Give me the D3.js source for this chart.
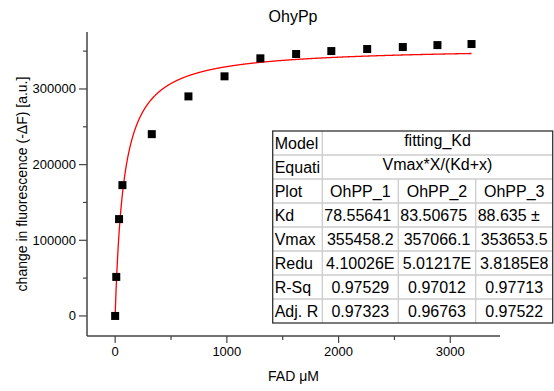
<!DOCTYPE html>
<html>
<head>
<meta charset="utf-8">
<script src="https://cdn.jsdelivr.net/npm/d3@7"></script>
<style>
  body { margin: 0; background: #fff; }
  svg { font-family: Arial, "Liberation Sans", sans-serif; }
</style>
</head>
<body>
<svg id="chart" width="554" height="391"></svg>
<script>
// measured FAD titration points
const fadConc = [0, 10, 35, 65, 328, 656, 979, 1300, 1620, 1935, 2256, 2575, 2885, 3190];
const deltaF = [0, 51600, 128000, 172900, 240300, 290200, 316700, 340500, 346200, 350100, 352800, 355400, 358000, 359400];

// fit parameters (OhPP_1 column)
const VMAX = 355458.2;
const KD = 78.55641;
const FIT_X_MAX = 3190;

const xTicks = [0, 1000, 2000, 3000];
const yTicks = [0, 100000, 200000, 300000];

// table content (as shown, cells cut off)
const tableColumns = ["OhPP_1", "OhPP_2", "OhPP_3"];
const tableRows = [
  { label: "Model", merged: "fitting_Kd" },
  { label: "Equati", merged: "Vmax*X/(Kd+x)" },
  { label: "Plot", values: tableColumns },
  { label: "Kd", values: ["78.55641", "83.50675", "88.635 ±"], left: true },
  { label: "Vmax", values: ["355458.2", "357066.1", "353653.5"] },
  { label: "Redu", values: ["4.10026E", "5.01217E", "3.8185E8"] },
  { label: "R-Sq", values: ["0.97529", "0.97012", "0.97713"] },
  { label: "Adj. R", values: ["0.97323", "0.96763", "0.97522"] }
];

const svg = d3.select("#chart");
const AXIS = "#444";

const plot = { left: 87, right: 500, top: 32, bottom: 336 };

const x = d3.scaleLinear().domain([-252, 3445]).range([plot.left, plot.right]);
const y = d3.scaleLinear().domain([-26500, 375300]).range([plot.bottom, plot.top]);

// axes
const xAxis = svg.append("g").attr("transform", `translate(0,${plot.bottom})`);
xAxis.append("line")
  .attr("x1", plot.left).attr("x2", plot.right)
  .attr("stroke", AXIS).attr("stroke-width", 1.5);
xAxis.selectAll(".minor").data([500, 1500, 2500])
  .join("line")
  .attr("x1", d => x(d)).attr("x2", d => x(d))
  .attr("y1", 0).attr("y2", 4)
  .attr("stroke", AXIS).attr("stroke-width", 1.2);
xAxis.selectAll(".major").data(xTicks)
  .join("line")
  .attr("x1", d => x(d)).attr("x2", d => x(d))
  .attr("y1", 0).attr("y2", 7)
  .attr("stroke", AXIS).attr("stroke-width", 1.2);
xAxis.selectAll("text").data(xTicks)
  .join("text")
  .attr("x", d => x(d)).attr("y", 20)
  .attr("text-anchor", "middle")
  .attr("font-size", 13)
  .text(d => d);

const yAxis = svg.append("g").attr("transform", `translate(${plot.left},0)`);
yAxis.append("line")
  .attr("y1", plot.top).attr("y2", plot.bottom)
  .attr("stroke", AXIS).attr("stroke-width", 1.5);
yAxis.selectAll(".minor").data([50000, 150000, 250000, 350000])
  .join("line")
  .attr("y1", d => y(d)).attr("y2", d => y(d))
  .attr("x1", 0).attr("x2", -4)
  .attr("stroke", AXIS).attr("stroke-width", 1.2);
yAxis.selectAll(".major").data(yTicks)
  .join("line")
  .attr("y1", d => y(d)).attr("y2", d => y(d))
  .attr("x1", 0).attr("x2", -8)
  .attr("stroke", AXIS).attr("stroke-width", 1.2);
yAxis.selectAll("text").data(yTicks)
  .join("text")
  .attr("x", -11).attr("y", d => y(d) + 4.5)
  .attr("text-anchor", "end")
  .attr("font-size", 13)
  .text(d => d);

// labels
svg.append("text")
  .attr("x", 293).attr("y", 22)
  .attr("text-anchor", "middle").attr("font-size", 16)
  .text("OhyPp");
svg.append("text")
  .attr("x", (plot.left + plot.right) / 2).attr("y", 381)
  .attr("text-anchor", "middle").attr("font-size", 14)
  .text("FAD μM");
svg.append("text")
  .attr("transform", `translate(27,${(plot.top + plot.bottom) / 2}) rotate(-90)`)
  .attr("text-anchor", "middle").attr("font-size", 14)
  .text("change in fluorescence (-ΔF) [a.u.]");

// fit curve
const fitX = d3.range(0, FIT_X_MAX + 1, 2);
svg.append("path")
  .datum(fitX)
  .attr("fill", "none")
  .attr("stroke", "#ff0000")
  .attr("stroke-width", 1.3)
  .attr("d", d3.line().x(d => x(d)).y(d => y(VMAX * d / (KD + d))));

// data markers
svg.append("g").selectAll("rect")
  .data(fadConc.map((c, i) => [c, deltaF[i]]))
  .join("rect")
  .attr("x", d => x(d[0]) - 4).attr("y", d => y(d[1]) - 4)
  .attr("width", 8).attr("height", 8)
  .attr("fill", "#000");

// results table
const tbl = { top: 131, rowH: 24 };
const colX = [272.7, 322.3, 398.3, 475.7, 552.7];
const table = svg.append("g").attr("font-size", 16);
table.append("rect")
  .attr("x", colX[0]).attr("y", tbl.top)
  .attr("width", colX[4] - colX[0]).attr("height", tbl.rowH * tableRows.length)
  .attr("fill", "#fff");

const defs = svg.append("defs");
let clipId = 0;
function cellText(x0, x1, row, txt, anchor, dy) {
  const id = "clip" + clipId++;
  defs.append("clipPath").attr("id", id)
    .append("rect")
    .attr("x", x0 + 1).attr("y", tbl.top + row * tbl.rowH)
    .attr("width", x1 - x0 - 2).attr("height", tbl.rowH);
  let tx = x0 + 2;
  if (anchor === "middle") tx = (x0 + x1) / 2;
  table.append("text")
    .attr("clip-path", `url(#${id})`)
    .attr("x", tx)
    .attr("y", tbl.top + row * tbl.rowH + 18 + (dy || 0))
    .attr("text-anchor", anchor)
    .text(txt);
}

tableRows.forEach((r, i) => {
  cellText(colX[0], colX[1], i, r.label, "start");
  if (r.merged) {
    cellText(colX[1], colX[4], i, r.merged, "middle", -3);
  } else {
    r.values.forEach((v, j) => {
      cellText(colX[j + 1], colX[j + 2], i, v, r.left ? "start" : "middle");
    });
  }
});

// grid lines
const gridY = d3.range(1, tableRows.length).map(i => tbl.top + i * tbl.rowH);
table.selectAll(".hline").data(gridY)
  .join("line")
  .attr("x1", colX[0]).attr("x2", colX[4])
  .attr("y1", d => d).attr("y2", d => d)
  .attr("stroke", "#ccc").attr("stroke-width", 1.3);
table.append("line")
  .attr("x1", colX[1]).attr("x2", colX[1])
  .attr("y1", tbl.top).attr("y2", tbl.top + tbl.rowH * tableRows.length)
  .attr("stroke", "#ccc").attr("stroke-width", 1.3);
[colX[2], colX[3]].forEach(cx => {
  table.append("line")
    .attr("x1", cx).attr("x2", cx)
    .attr("y1", tbl.top + 2 * tbl.rowH).attr("y2", tbl.top + tbl.rowH * tableRows.length)
    .attr("stroke", "#ccc").attr("stroke-width", 1.3);
});
table.append("rect")
  .attr("x", colX[0]).attr("y", tbl.top)
  .attr("width", colX[4] - colX[0]).attr("height", tbl.rowH * tableRows.length)
  .attr("fill", "none").attr("stroke", "#333").attr("stroke-width", 1.3);
</script>
</body>
</html>
